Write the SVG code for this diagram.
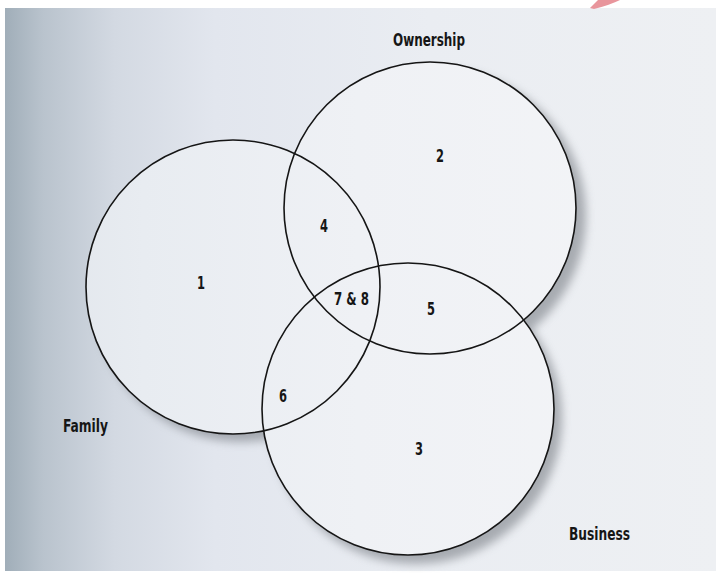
<svg xmlns="http://www.w3.org/2000/svg" width="716" height="573" viewBox="0 0 716 573">
  <defs>
    <linearGradient id="bg" gradientUnits="userSpaceOnUse" x1="0" y1="0" x2="716" y2="0">
      <stop offset="0" stop-color="#9dabb6"/>
      <stop offset="0.06" stop-color="#b9c3cd"/>
      <stop offset="0.16" stop-color="#d3d9e2"/>
      <stop offset="0.3" stop-color="#e2e6ee"/>
      <stop offset="0.6" stop-color="#eaedf2"/>
      <stop offset="1" stop-color="#eef0f3"/>
    </linearGradient>
    <linearGradient id="fillg" gradientUnits="userSpaceOnUse" x1="0" y1="0" x2="716" y2="0">
      <stop offset="0" stop-color="#dfe4ea"/>
      <stop offset="0.2" stop-color="#e8ecf1"/>
      <stop offset="0.5" stop-color="#eff1f5"/>
      <stop offset="1" stop-color="#f4f5f7"/>
    </linearGradient>
    <filter id="shadow" x="-20%" y="-20%" width="140%" height="140%">
      <feGaussianBlur stdDeviation="5"/>
    </filter>
    <style>
      .ring { fill: url(#fillg); stroke: none; }
      .edge { fill: none; stroke: #151515; stroke-width: 1.6; }
      .lbl { font-family: "DejaVu Sans Condensed", "Liberation Sans", Arial, sans-serif; font-weight: bold; fill: #161616; font-size: 18px; }
      .num { font-family: "DejaVu Sans Condensed", "Liberation Sans", Arial, sans-serif; font-weight: bold; fill: #161616; font-size: 17.5px; }
    </style>
  </defs>

  <!-- background -->
  <rect x="0" y="0" width="716" height="573" fill="#ffffff"/>
  <rect x="5" y="8" width="711" height="563" fill="url(#bg)"/>
  <path d="M 590 8 L 598 0 L 620 0 Q 610 5 594 9 Z" fill="#e8959c"/>

  <!-- shadows -->
  <g id="shadows" filter="url(#shadow)" fill="#6f757c" opacity="0.55">
    <circle cx="241" cy="296" r="146"/>
    <circle cx="440" cy="216" r="146"/>
    <circle cx="416" cy="418" r="146"/>
  </g>

  <!-- fills -->
  <g id="fills">
    <circle class="ring" cx="233" cy="287" r="147"/>
    <circle class="ring" cx="430" cy="208" r="146"/>
    <circle class="ring" cx="408" cy="409" r="146"/>
  </g>

  <g id="connectors"/>

  <g id="family">
    <circle class="edge" cx="233" cy="287" r="147"/>
    <text class="lbl" x="63" y="432" textLength="45" lengthAdjust="spacingAndGlyphs">Family</text>
  </g>
  <g id="ownership">
    <circle class="edge" cx="430" cy="208" r="146"/>
    <text class="lbl" x="393" y="46" textLength="72" lengthAdjust="spacingAndGlyphs">Ownership</text>
  </g>
  <g id="business">
    <circle class="edge" cx="408" cy="409" r="146"/>
    <text class="lbl" x="569" y="540" textLength="61" lengthAdjust="spacingAndGlyphs">Business</text>
  </g>

  <g id="regions">
    <text class="num" x="197" y="289" textLength="8" lengthAdjust="spacingAndGlyphs">1</text>
    <text class="num" x="436" y="162" textLength="8" lengthAdjust="spacingAndGlyphs">2</text>
    <text class="num" x="415" y="455" textLength="8" lengthAdjust="spacingAndGlyphs">3</text>
    <text class="num" x="320" y="232" textLength="8" lengthAdjust="spacingAndGlyphs">4</text>
    <text class="num" x="427" y="315" textLength="8" lengthAdjust="spacingAndGlyphs">5</text>
    <text class="num" x="279" y="402" textLength="8" lengthAdjust="spacingAndGlyphs">6</text>
    <text class="num" x="334" y="305" textLength="35" lengthAdjust="spacingAndGlyphs">7 &amp; 8</text>
  </g>
</svg>
